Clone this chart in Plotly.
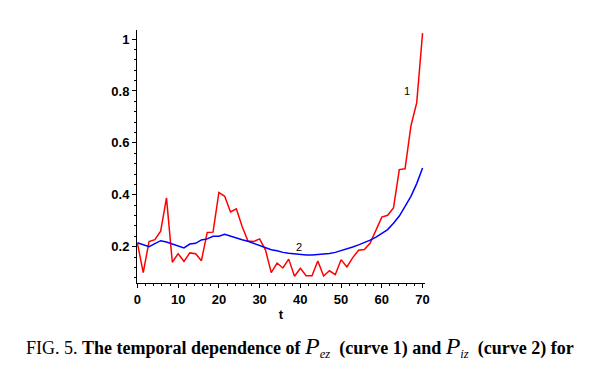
import plotly.graph_objects as go

# time grid (50 samples over 0..70)
t = [0.0, 1.43, 2.86, 4.29, 5.71, 7.14, 8.57, 10.0, 11.43, 12.86,
     14.29, 15.71, 17.14, 18.57, 20.0, 21.43, 22.86, 24.29, 25.71, 27.14,
     28.57, 30.0, 31.43, 32.86, 34.29, 35.71, 37.14, 38.57, 40.0, 41.43,
     42.86, 44.29, 45.71, 47.14, 48.57, 50.0, 51.43, 52.86, 54.29, 55.71,
     57.14, 58.57, 60.0, 61.43, 62.86, 64.29, 65.71, 67.14, 68.57, 70.0]

# curve 1: P_ez
p_ez = [0.214, 0.100, 0.220, 0.227, 0.260, 0.388, 0.140, 0.173, 0.143, 0.176,
        0.173, 0.146, 0.255, 0.256, 0.409, 0.394, 0.334, 0.346, 0.278, 0.222,
        0.220, 0.230, 0.188, 0.100, 0.137, 0.118, 0.152, 0.086, 0.117, 0.088,
        0.088, 0.145, 0.087, 0.107, 0.092, 0.150, 0.122, 0.158, 0.186, 0.189,
        0.214, 0.262, 0.314, 0.321, 0.349, 0.497, 0.500, 0.665, 0.755, 1.023]

# curve 2: P_iz
p_iz = [0.215, 0.208, 0.200, 0.212, 0.223, 0.218, 0.211, 0.205, 0.195, 0.210,
        0.213, 0.226, 0.230, 0.240, 0.240, 0.248, 0.240, 0.232, 0.227, 0.221,
        0.212, 0.203, 0.195, 0.188, 0.184, 0.178, 0.175, 0.172, 0.169, 0.168,
        0.168, 0.170, 0.171, 0.174, 0.178, 0.184, 0.192, 0.199, 0.207, 0.215,
        0.225, 0.237, 0.250, 0.266, 0.290, 0.318, 0.355, 0.394, 0.443, 0.503]

x_ticks = [0, 10, 20, 30, 40, 50, 60, 70]
y_ticks = [0.2, 0.4, 0.6, 0.8, 1.0]
y_tick_labels = ["0.2", "0.4", "0.6", "0.8", "1"]

curve_labels = ["1", "2"]
curve_label_t = [66.2, 39.7]
curve_label_v = [0.80, 0.199]

caption = ("FIG. 5. <b>The temporal dependence of </b>"
           "<span style='font-size:24px'><i>P</i></span><sub><i>ez</i></sub>"
           "<b>  (curve 1) and </b>"
           "<span style='font-size:24px'><i>P</i></span><sub><i>iz</i></sub>"
           "<b>  (curve 2) for</b>")

fig = go.Figure()
fig.add_trace(go.Scatter(x=t, y=p_ez, mode="lines",
                         line=dict(color="#ff0000", width=1.5), showlegend=False))
fig.add_trace(go.Scatter(x=t, y=p_iz, mode="lines",
                         line=dict(color="#0000ff", width=1.5), showlegend=False))

for lab, lx, ly in zip(curve_labels, curve_label_t, curve_label_v):
    fig.add_annotation(x=lx, y=ly, text=lab, showarrow=False,
                       font=dict(family="Liberation Sans", size=11, color="black"))

fig.add_annotation(xref="paper", yref="paper", x=0.566, y=0, yshift=-64,
                   xanchor="center", yanchor="middle", showarrow=False,
                   text=caption,
                   font=dict(family="Liberation Serif", size=18, color="black"))

fig.update_layout(
    width=589, height=358,
    margin=dict(l=129, r=172, t=22, b=83),
    paper_bgcolor="white", plot_bgcolor="white",
    xaxis=dict(range=[-0.1, 70.6], showgrid=False, zeroline=False,
               showline=True, linecolor="black", linewidth=1,
               tickmode="array", tickvals=x_ticks,
               ticks="outside", ticklen=4, tickcolor="black",
               minor=dict(dtick=2, ticks="outside", ticklen=2, tickcolor="black"),
               tickfont=dict(family="Liberation Sans", size=13, color="black", weight="bold"),
               title=dict(text="<b>t</b>", standoff=4,
                          font=dict(family="Liberation Sans", size=13, color="black"))),
    yaxis=dict(range=[0.06, 1.035], showgrid=False, zeroline=False,
               showline=True, linecolor="black", linewidth=1,
               tickmode="array", tickvals=y_ticks, ticktext=y_tick_labels,
               ticks="outside", ticklen=4, tickcolor="black",
               minor=dict(tickvals=[0.08, 0.12, 0.16, 0.24, 0.28, 0.32, 0.36, 0.44, 0.48,
                                    0.52, 0.56, 0.64, 0.68, 0.72, 0.76, 0.84, 0.88, 0.92, 0.96],
                          ticks="outside", ticklen=2, tickcolor="black"),
               tickfont=dict(family="Liberation Sans", size=13, color="black", weight="bold")),
)

fig.write_html("out.html")
